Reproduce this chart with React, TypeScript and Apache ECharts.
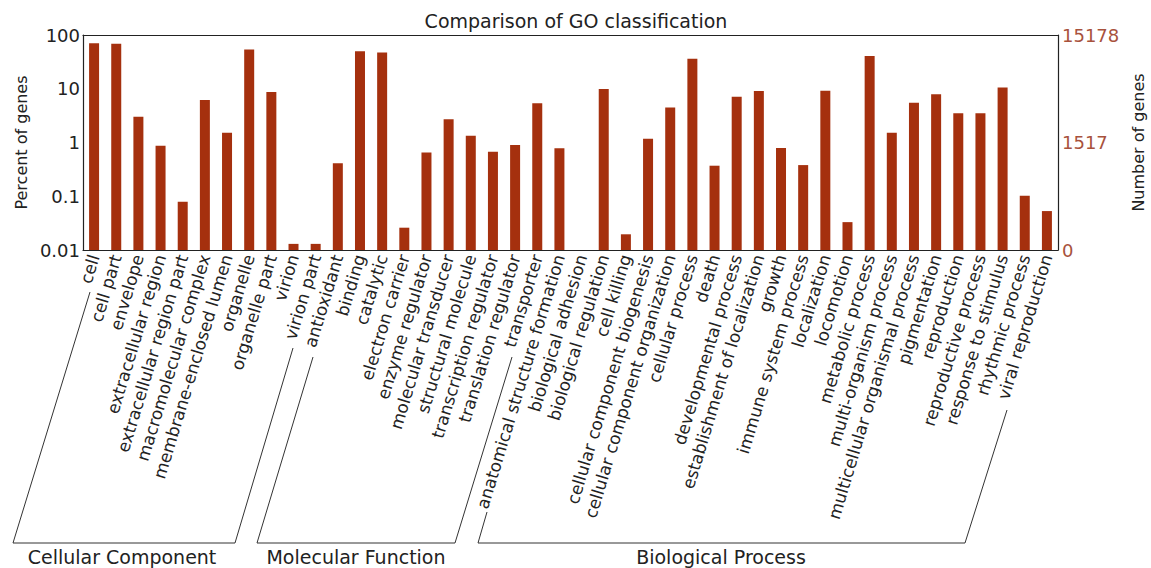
import React, { useEffect, useRef } from "react";
import * as echarts from "echarts";

const titleText = "Comparison of GO classification";

const cellularComponent = [
  "cell", "cell part", "envelope", "extracellular region", "extracellular region part",
  "macromolecular complex", "membrane-enclosed lumen", "organelle", "organelle part",
  "virion", "virion part",
];
const molecularFunction = [
  "antioxidant", "binding", "catalytic", "electron carrier", "enzyme regulator",
  "molecular transducer", "structural molecule", "transcription regulator",
  "translation regulator", "transporter",
];
const biologicalProcess = [
  "anatomical structure formation", "biological adhesion", "biological regulation",
  "cell killing", "cellular component biogenesis", "cellular component organization",
  "cellular process", "death", "developmental process", "establishment of localization",
  "growth", "immune system process", "localization", "locomotion", "metabolic process",
  "multi-organism process", "multicellular organismal process", "pigmentation",
  "reproduction", "reproductive process", "response to stimulus", "rhythmic process",
  "viral reproduction",
];

const ccValues = [70, 69, 3.0, 0.87, 0.079, 6.2, 1.52, 54, 8.7, 0.013, 0.013];
const mfValues = [0.41, 50, 47, 0.026, 0.65, 2.7, 1.34, 0.67, 0.9, 5.4];
const bpValues = [
  0.78, null, 9.9, 0.0196, 1.18, 4.5, 36, 0.37, 7.1, 9.1, 0.79, 0.38, 9.2, 0.033,
  40.6, 1.52, 5.5, 7.9, 3.5, 3.5, 10.6, 0.102, 0.053,
];

const leftTicks = ["0.01", "0.1", "1", "10", "100"];
const rightTickLabels: Record<number, string> = { 0: "0", 2: "1517", 4: "15178" };
const axisMin = 0.01;
const axisMax = 100;

const groupNames = ["Cellular Component", "Molecular Function", "Biological Process"];

const categories = [...cellularComponent, ...molecularFunction, ...biologicalProcess];
const values = [...ccValues, ...mfValues, ...bpValues];

const FONT = "DejaVu Sans, Arial, sans-serif";
const BAR = "#a5300e";

export default function App() {
  const ref = useRef<HTMLDivElement>(null);
  useEffect(() => {
    if (!ref.current) return;
    const chart = echarts.init(ref.current, null, { renderer: "svg" });
    const lineStyle = { stroke: "#333", lineWidth: 1, fill: null };
    const barData = values
      .map((v, i) => [i, v])
      .filter((d) => d[1] !== null);
    chart.setOption({
      animation: false,
      backgroundColor: "#fff",
      textStyle: { fontFamily: FONT },
      title: {
        text: titleText,
        left: 571,
        textAlign: "center",
        top: 6,
        textStyle: { fontFamily: FONT, fontSize: 19, fontWeight: "normal", color: "#222" },
      },
      grid: {
        left: 83,
        right: 93,
        top: 35,
        bottom: 318,
        containLabel: false,
        outerBoundsMode: "none",
      },
      xAxis: [
        {
          type: "category",
          data: categories,
          position: "bottom",
          axisLine: { lineStyle: { color: "#222", width: 1.2 } },
          axisTick: { inside: true, length: 4, lineStyle: { color: "#222" } },
          axisLabel: {
            interval: 0,
            rotate: 73,
            margin: 5,
            fontSize: 17,
            fontFamily: FONT,
            color: "#222",
          },
        },
        {
          type: "category",
          data: categories,
          position: "top",
          axisLine: { lineStyle: { color: "#222", width: 1.2 } },
          axisTick: { inside: true, length: 4, lineStyle: { color: "#222" } },
          axisLabel: { show: false },
        },
      ],
      yAxis: [
        {
          type: "log",
          logBase: 10,
          min: axisMin,
          max: axisMax,
          name: "Percent of genes",
          nameLocation: "middle",
          nameGap: 45,
          nameTextStyle: { fontFamily: FONT, fontSize: 16, color: "#222" },
          axisLine: { show: true, lineStyle: { color: "#222", width: 1.2 } },
          axisTick: { inside: true, length: 4, lineStyle: { color: "#222" } },
          splitLine: { show: false },
          axisLabel: {
            fontSize: 18,
            fontFamily: FONT,
            color: "#222",
            margin: 3,
            formatter: (v: number) => {
              const idx = Math.round(Math.log10(v)) + 2;
              return leftTicks[idx] ?? "";
            },
          },
        },
        {
          type: "value",
          min: 0,
          max: 4,
          interval: 2,
          position: "right",
          name: "Number of genes",
          nameLocation: "middle",
          nameGap: 72,
          nameRotate: 90,
          nameTextStyle: { fontFamily: FONT, fontSize: 16, color: "#222" },
          axisLine: { show: true, lineStyle: { color: "#222", width: 1.2 } },
          axisTick: { inside: true, length: 4, lineStyle: { color: "#222" } },
          splitLine: { show: false },
          axisLabel: {
            fontSize: 18,
            fontFamily: FONT,
            color: "#a8523c",
            margin: 4,
            formatter: (v: number) => rightTickLabels[v] ?? "",
          },
        },
      ],
      series: [
        {
          type: "custom",
          xAxisIndex: 0,
          yAxisIndex: 0,
          data: barData,
          encode: { x: 0, y: 1 },
          renderItem: (params: any, api: any) => {
            const i = api.value(0);
            const v = api.value(1);
            const top = api.coord([i, v]);
            const bot = api.coord([i, axisMin]);
            const w = 10;
            return {
              type: "rect",
              shape: { x: top[0] - w / 2, y: top[1], width: w, height: bot[1] - top[1] },
              style: { fill: BAR },
            };
          },
        },
      ],
      graphic: [
        { type: "polyline", shape: { points: [[90, 292], [13, 543], [235, 543], [293, 348]] }, style: lineStyle, silent: true },
        { type: "polyline", shape: { points: [[313, 357], [257, 543], [455, 543], [512, 357]] }, style: lineStyle, silent: true },
        { type: "polyline", shape: { points: [[487, 512], [478, 543], [965, 543], [1007, 410]] }, style: lineStyle, silent: true },
        { type: "text", x: 122, y: 557, style: { text: groupNames[0], fontSize: 19, fontFamily: FONT, fill: "#222", align: "center", verticalAlign: "middle" } },
        { type: "text", x: 356, y: 557, style: { text: groupNames[1], fontSize: 19, fontFamily: FONT, fill: "#222", align: "center", verticalAlign: "middle" } },
        { type: "text", x: 721, y: 557, style: { text: groupNames[2], fontSize: 19, fontFamily: FONT, fill: "#222", align: "center", verticalAlign: "middle" } },
      ],
    });
    return () => chart.dispose();
  }, []);
  return (
    <div
      ref={ref}
      style={{ position: "fixed", left: 0, top: 0, width: 1151, height: 568 }}
    />
  );
}
